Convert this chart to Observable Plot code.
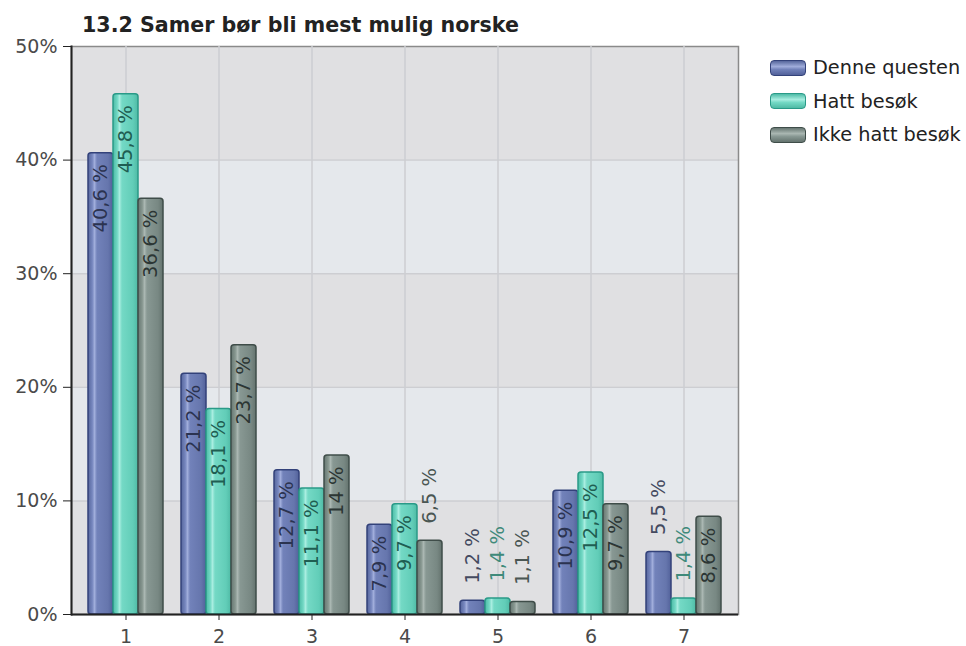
<!DOCTYPE html>
<html><head><meta charset="utf-8">
<script src="https://cdn.jsdelivr.net/npm/d3@7"></script>
<script src="https://cdn.jsdelivr.net/npm/@observablehq/plot@0.6"></script>
<style>
body{margin:0;background:#fff;font-family:"DejaVu Sans",sans-serif;}
#wrap{position:relative;width:966px;height:646px;overflow:hidden;}
#title{height:38px;box-sizing:border-box;padding-top:13px;padding-left:82px;font-weight:bold;font-size:20.6px;line-height:24px;color:#222;white-space:nowrap;}
#chart{position:relative;width:966px;height:608px;}
#chart svg{position:absolute;left:0;top:0;}
#legend{position:absolute;left:770px;top:51px;}
.item{display:flex;align-items:center;height:33.5px;font-size:19.3px;color:#222;white-space:nowrap;}
.sw{width:34px;height:14px;border-radius:4px;margin-right:7px;border:1.5px solid;}
</style></head>
<body>
<div id="wrap">
<div id="title">13.2 Samer bør bli mest mulig norske</div>
<div id="chart"></div>
<div id="legend"></div>
</div>
<script>
const categories = ["1","2","3","4","5","6","7"];
const seriesNames = ["Denne questen","Hatt besøk","Ikke hatt besøk"];
const denneQuesten = [40.6,21.2,12.7,7.9,1.2,10.9,5.5];
const hattBesok = [45.8,18.1,11.1,9.7,1.4,12.5,1.4];
const ikkeHattBesok = [36.6,23.7,14,6.5,1.1,9.7,8.6];
const yTicks = [0,10,20,30,40,50];

const seriesValues = [denneQuesten, hattBesok, ikkeHattBesok];
const gradIds = ["gBlue","gGreen","gGray"];
const strokes = ["#33427a","#2a9a88","#3f4d49"];
const insideColors = ["#2b3350","#1f5e52","#2c3634"];
const outsideColors = ["#444a60","#3f8a7a","#4a5653"];
const gradStops = [
  ["#56669c","#7686be","#a0addb","#7282ba","#6676ad","#52619a"],
  ["#4cbba6","#72d8c4","#a8ede0","#74d9c5","#62cdb8","#4fbaa5"],
  ["#677772","#86968f","#aab7b2","#889893","#788883","#64736e"]
];
const stopOffsets = [0,0.17,0.26,0.36,0.8,1];

const rows = categories.flatMap((c,i)=> seriesNames.map((s,j)=>({cat:c, series:s, v:seriesValues[j][i], k:j})));
const fmt = v => String(v).replace(".", ",") + " %";
const bands = yTicks.slice(0,-1).map((t,i)=>({y1:t, y2:yTicks[i+1], alt:i%2}));

const common = {
  width: 966, height: 608,
  marginLeft: 71, marginRight: 228, marginTop: 8, marginBottom: 32,
  style: {fontFamily: "DejaVu Sans, sans-serif", background: "transparent", overflow: "visible"},
  y: {domain: [0,50], label: null, axis: null}
};

const bgLayer = Plot.plot({
  ...common,
  marks: [
    Plot.rectY(bands.filter(b=>!b.alt), {y1:"y1", y2:"y2", fill:"#e0e0e2"}),
    Plot.rectY(bands.filter(b=>b.alt), {y1:"y1", y2:"y2", fill:"#e5e8ec"}),
    Plot.ruleY(yTicks.slice(1,-1), {stroke:"#cdced2", strokeWidth:1.5}),
    Plot.frame({stroke:"#8a8a8a", strokeWidth:1.5})
  ]
});

const labelMarks = seriesNames.flatMap((s,j)=>{
  const mine = rows.filter(d=>d.k===j);
  return [
    Plot.text(mine.filter(d=>d.v>=7), {fx:"cat", x:"series", y:"v", text:d=>fmt(d.v), rotate:-90, textAnchor:"end", lineAnchor:"middle", dy:11, fontSize:19.5, fill:insideColors[j]}),
    Plot.text(mine.filter(d=>d.v<7), {fx:"cat", x:"series", y:"v", text:d=>fmt(d.v), rotate:-90, textAnchor:"start", lineAnchor:"middle", dy:-17, fontSize:19.5, fill:outsideColors[j]})
  ];
});

const barLayer = Plot.plot({
  ...common,
  fx: {domain: categories, paddingInner: 0, paddingOuter: 0.08, label: null},
  x: {domain: seriesNames, paddingInner: 0, paddingOuter: 0.29, axis: null},
  marks: [
    Plot.ruleX(categories, {fx: d=>d, x: () => seriesNames[1], stroke:"#cdced2", strokeWidth:1.5}),
    ...seriesNames.map((s,j)=> Plot.barY(rows.filter(d=>d.k===j), {
      fx:"cat", x:"series", y:"v", fill:`url(#${gradIds[j]})`, stroke:strokes[j], strokeWidth:1.5, rx:3})),
    ...labelMarks,
    Plot.axisFx({anchor:"bottom", tickSize:6, tickPadding:9, fontSize:19, stroke:"#222", fill:"#4a4a4a", label:null})
  ]
});

const axisLayer = Plot.plot({
  ...common,
  marks: [
    Plot.ruleY([0], {stroke:"#222", strokeWidth:2}),
    Plot.frame({anchor:"left", stroke:"#222", strokeWidth:2}),
    Plot.axisY({ticks:yTicks, tickFormat:d=>d+"%", tickSize:8, tickPadding:6, fontSize:19, stroke:"#222", fill:"#4a4a4a", label:null})
  ]
});

const ns = "http://www.w3.org/2000/svg";
const defs = document.createElementNS(ns, "defs");
gradIds.forEach((id,j)=>{
  const lg = document.createElementNS(ns, "linearGradient");
  lg.setAttribute("id", id);
  lg.setAttribute("x1","0"); lg.setAttribute("x2","1"); lg.setAttribute("y1","0"); lg.setAttribute("y2","0");
  gradStops[j].forEach((c,k)=>{
    const st = document.createElementNS(ns, "stop");
    st.setAttribute("offset", stopOffsets[k]);
    st.setAttribute("stop-color", c);
    lg.appendChild(st);
  });
  defs.appendChild(lg);
});
barLayer.insertBefore(defs, barLayer.firstChild);
const chart = document.getElementById("chart");
chart.appendChild(bgLayer); chart.appendChild(barLayer); chart.appendChild(axisLayer);

const leg = document.getElementById("legend");
seriesNames.forEach((s,j)=>{
  const it = document.createElement("div"); it.className = "item";
  const sw = document.createElement("div"); sw.className = "sw";
  sw.style.borderColor = strokes[j];
  sw.style.background = `linear-gradient(to bottom, ${gradStops[j][0]}, ${gradStops[j][2]} 40%, ${gradStops[j][3]} 60%, ${gradStops[j][5]})`;
  const tx = document.createElement("span"); tx.textContent = s;
  it.appendChild(sw); it.appendChild(tx); leg.appendChild(it);
});
</script>
</body></html>
